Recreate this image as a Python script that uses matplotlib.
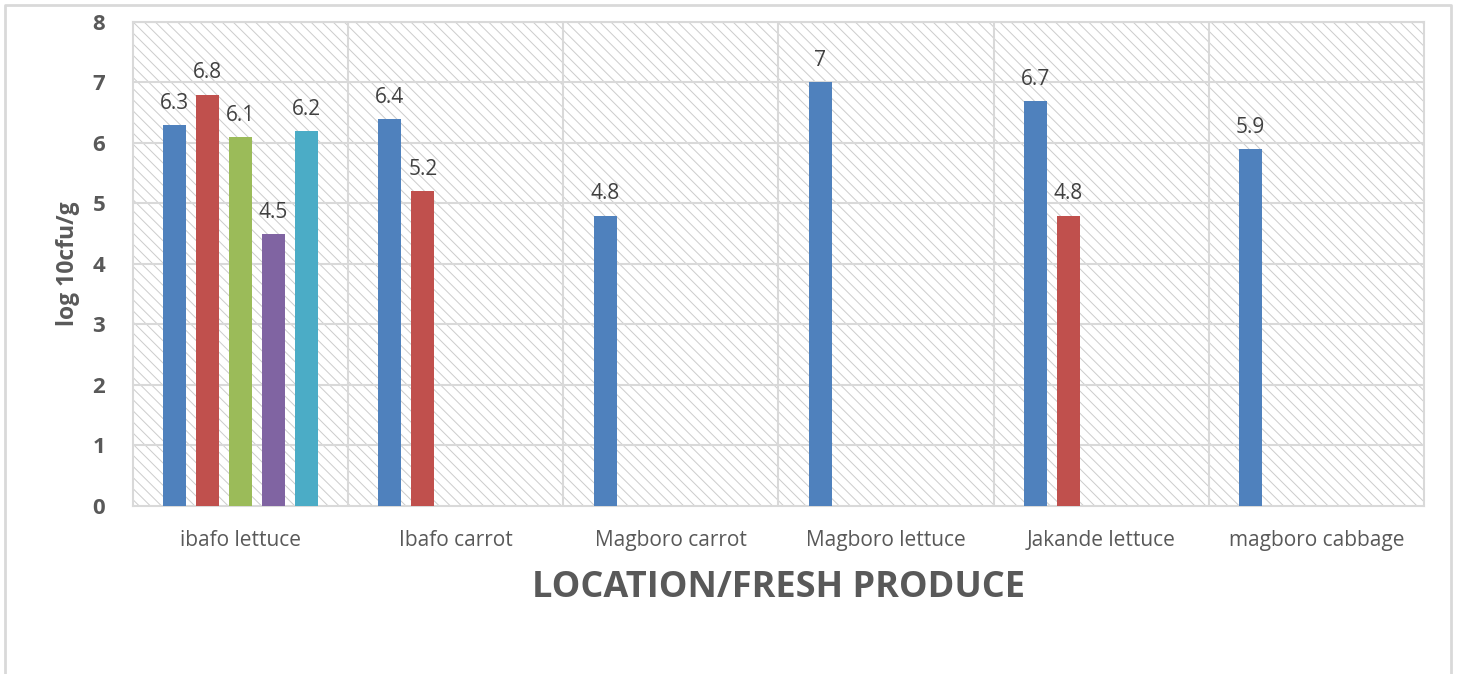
import matplotlib.pyplot as plt
import numpy as np
from matplotlib.patches import Rectangle
from matplotlib.lines import Line2D

categories = ["ibafo lettuce", "Ibafo carrot", "Magboro carrot",
              "Magboro lettuce", "Jakande lettuce", "magboro cabbage"]
nan = np.nan
series_1 = [6.3, 6.4, 4.8, 7.0, 6.7, 5.9]
series_2 = [6.8, 5.2, nan, nan, 4.8, nan]
series_3 = [6.1, nan, nan, nan, nan, nan]
series_4 = [4.5, nan, nan, nan, nan, nan]
series_5 = [6.2, nan, nan, nan, nan, nan]
series_colors = ["#4F81BD", "#C0504D", "#9BBB59", "#8064A2", "#4BACC6"]
y_ticks = [0, 1, 2, 3, 4, 5, 6, 7, 8]


def main():
    plt.rcParams["font.family"] = ["Open Sans", "DejaVu Sans"]
    plt.rcParams["hatch.linewidth"] = 0.7
    fig = plt.figure(figsize=(14.6, 6.74), dpi=100)
    ax = fig.add_axes([0.0911, 0.2493, 0.8842, 0.7181])

    grid_col = "#D9D9D9"
    text_col = "#595959"

    # hatched plot background
    bg = Rectangle((0, 0), 1, 1, transform=ax.transAxes, facecolor="white",
                   edgecolor="#CCCCCC", hatch="\\\\\\", linewidth=0, zorder=0)
    ax.add_patch(bg)

    all_series = [series_1, series_2, series_3, series_4, series_5]
    x = np.arange(len(categories))
    slot = 0.153
    width = 0.107
    for i, vals in enumerate(all_series):
        pos = x + (i - 2) * slot
        v = np.array(vals, dtype=float)
        ok = ~np.isnan(v)
        ax.bar(pos[ok], v[ok], width=width, color=series_colors[i], zorder=3)
        for px, py in zip(pos[ok], v[ok]):
            lab = f"{py:g}"
            ax.annotate(lab, (px, py), xytext=(0, 8), textcoords="offset points",
                        ha="center", va="bottom", fontsize=15, color="#404040",
                        zorder=4)

    ax.set_xlim(-0.5, len(categories) - 0.5)
    ax.set_ylim(0, 8)
    ax.set_yticks(y_ticks)
    ax.set_yticklabels([str(t) for t in y_ticks], fontsize=16,
                       fontweight="bold", color=text_col)
    ax.set_xticks(x)
    ax.set_xticklabels(categories, fontsize=15, color=text_col)
    ax.tick_params(axis="both", length=0)
    ax.tick_params(axis="y", pad=20)
    ax.tick_params(axis="x", pad=17)

    for yy in y_ticks[1:]:
        ax.axhline(yy, color=grid_col, linewidth=1.5, zorder=1)
    for xx in np.arange(0.5, len(categories) - 0.5, 1.0):
        ax.axvline(xx, color=grid_col, linewidth=1.5, zorder=1)
    for s in ax.spines.values():
        s.set_color(grid_col)
        s.set_linewidth(1.5)

    ax.set_ylabel("log 10cfu/g", fontsize=16.5, fontweight="bold",
                  color=text_col, labelpad=9)
    ax.set_xlabel("LOCATION/FRESH PRODUCE", fontsize=26, fontweight="bold",
                  color=text_col, labelpad=14)

    # outer chart frame (left, top, right)
    fx = [5 / 1460, 5 / 1460, 1451 / 1460, 1451 / 1460]
    fy = [0.0, 1 - 5 / 674, 1 - 5 / 674, 0.0]
    fig.add_artist(Line2D(fx, fy, color=grid_col, linewidth=2,
                          transform=fig.transFigure))

    fig.savefig("out.png", dpi=100)


if __name__ == "__main__":
    main()
